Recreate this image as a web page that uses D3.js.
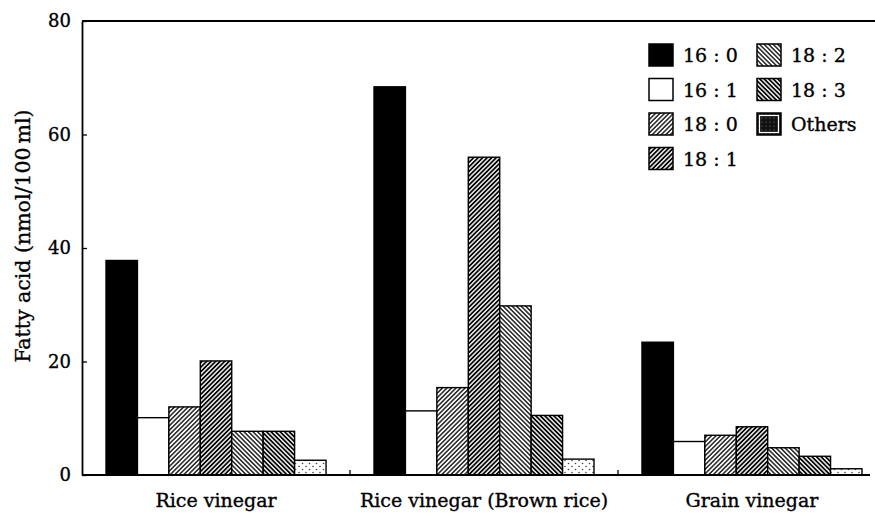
<!DOCTYPE html>
<html><head><meta charset="utf-8">
<script src="https://cdn.jsdelivr.net/npm/d3@7"></script>
<style>
html,body{margin:0;padding:0;background:#fff;}
text{font-family:"DejaVu Serif",serif;fill:#000;stroke:#000;stroke-width:0.35px;}
</style></head>
<body><svg id="c" width="875" height="513"></svg>
<script>
const groups = ["Rice vinegar", "Rice vinegar (Brown rice)", "Grain vinegar"];
const series = ["16 : 0", "16 : 1", "18 : 0", "18 : 1", "18 : 2", "18 : 3", "Others"];
const v160 = [37.8, 68.4, 23.4];
const v161 = [10.1, 11.3, 5.9];
const v180 = [12.0, 15.4, 7.0];
const v181 = [20.1, 56.0, 8.5];
const v182 = [7.7, 29.8, 4.8];
const v183 = [7.7, 10.5, 3.3];
const vOth = [2.6, 2.8, 1.1];
const yTicks = [0, 20, 40, 60, 80];
const yLabel = "Fatty acid (nmol/100\u2009ml)";

const values = [v160, v161, v180, v181, v182, v183, vOth];
const rows = [];
groups.forEach((g, gi) => series.forEach((s, si) => rows.push({g, s, v: values[si][gi]})));

const svg = d3.select("#c");
const defs = svg.append("defs");
function hatch(id, angle, w, sw){
  const p = defs.append("pattern").attr("id", id).attr("patternUnits","userSpaceOnUse")
    .attr("width", w).attr("height", w).attr("patternTransform", `rotate(${angle})`);
  p.append("rect").attr("width", w).attr("height", w).attr("fill","#fff");
  p.append("line").attr("x1", w/2).attr("x2", w/2).attr("y1", -1).attr("y2", w+1)
    .attr("stroke","#000").attr("stroke-width", sw);
}
hatch("h180", 45, 3.2, 1.3);
hatch("h181", 45, 3.2, 1.8);
hatch("h182", -45, 3.2, 1.3);
hatch("h183", -45, 3.2, 1.8);
const dp = defs.append("pattern").attr("id","dots").attr("patternUnits","userSpaceOnUse").attr("width",7).attr("height",6);
dp.append("rect").attr("width",7).attr("height",6).attr("fill","#fff");
dp.append("circle").attr("cx",1.5).attr("cy",1.5).attr("r",0.8).attr("fill","#444");
dp.append("circle").attr("cx",5).attr("cy",4.5).attr("r",0.8).attr("fill","#444");
const dl = defs.append("pattern").attr("id","dotsDark").attr("patternUnits","userSpaceOnUse").attr("width",4).attr("height",4);
dl.append("rect").attr("width",4).attr("height",4).attr("fill","#111");
dl.append("circle").attr("cx",1).attr("cy",1).attr("r",0.6).attr("fill","#777");

const fills = {"16 : 0":"#000","16 : 1":"#fff","18 : 0":"url(#h180)","18 : 1":"url(#h181)",
  "18 : 2":"url(#h182)","18 : 3":"url(#h183)","Others":"url(#dots)"};

const y = d3.scaleLinear().domain([0, 80]).range([475, 21]);
const x0 = d3.scaleBand().domain(groups).range([82, 886]).paddingInner(0.179).paddingOuter(0.0896);
const x1 = d3.scaleBand().domain(series).range([0, x0.bandwidth()]);

// bars
svg.append("g").selectAll("rect").data(rows).join("rect")
  .attr("x", d => x0(d.g) + x1(d.s))
  .attr("y", d => y(d.v))
  .attr("width", x1.bandwidth())
  .attr("height", d => y(0) - y(d.v))
  .attr("fill", d => fills[d.s])
  .attr("stroke", "#000").attr("stroke-width", 1.4);

// top frame line
svg.append("line").attr("x1", 82).attr("x2", 875).attr("y1", y(80)).attr("y2", y(80))
  .attr("stroke","#000").attr("stroke-width", 2);
// baseline
svg.append("line").attr("x1", 82).attr("x2", 870).attr("y1", y(0)).attr("y2", y(0))
  .attr("stroke","#000").attr("stroke-width", 1.8);
// group separator ticks
const seps = groups.slice(0, -1).map(g => x0(g) + x0.bandwidth() + x0.step()*x0.paddingInner()/2);
svg.append("g").selectAll("line").data(seps).join("line")
  .attr("x1", d => d).attr("x2", d => d).attr("y1", y(0)).attr("y2", y(0) - 5)
  .attr("stroke","#000").attr("stroke-width", 1.3);

// y axis
const ya = svg.append("g").attr("transform","translate(82,0)")
  .call(d3.axisLeft(y).tickValues(yTicks).tickSizeInner(-5).tickSizeOuter(0).tickPadding(11));
ya.select(".domain").attr("stroke-width", 1.8);
ya.selectAll(".tick line").attr("stroke-width", 1.3);
ya.selectAll(".tick text").style("font-family","DejaVu Serif").style("font-size","18px");

// x labels
svg.append("g").selectAll("text").data(groups).join("text")
  .attr("x", g => x0(g) + x0.bandwidth()/2).attr("y", 507)
  .attr("text-anchor","middle").style("font-size","19px").text(g => g);

// y title
svg.append("text").attr("transform","translate(30,236) rotate(-90)")
  .attr("text-anchor","middle").style("font-size","20.5px").text(yLabel);

// legend
const legFill = Object.assign({}, fills, {"Others":"url(#dotsDark)"});
const leg = svg.append("g").selectAll("g").data(series).join("g")
  .attr("transform", (d, i) => `translate(${i < 4 ? 649 : 757},${44 + (i % 4) * 34.5})`);
leg.append("rect").attr("width", 24).attr("height", 22)
  .attr("fill", d => legFill[d]).attr("stroke","#000").attr("stroke-width", 1.5);
leg.filter(d => d === "Others").append("rect").attr("x", 2.5).attr("y", 2.5).attr("width", 19).attr("height", 17)
  .attr("fill","none").attr("stroke","#fff").attr("stroke-width", 1.2);
leg.append("text").attr("x", 34).attr("y", 18).style("font-size","19px").text(d => d);
</script></body></html>
